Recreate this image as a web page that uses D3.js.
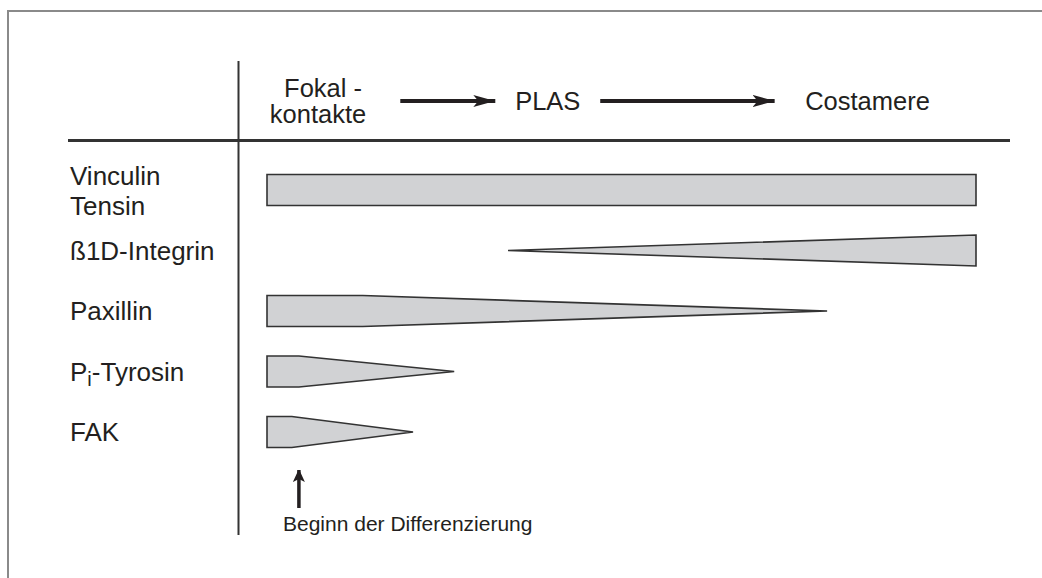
<!DOCTYPE html>
<html>
<head>
<meta charset="utf-8">
<script src="https://cdn.jsdelivr.net/npm/d3@7"></script>
<style>
  html, body { margin: 0; padding: 0; background: #fff; }
  svg { display: block; }
  text { font-family: "Liberation Sans", Arial, Helvetica, sans-serif; fill: #231f20; }
</style>
</head>
<body>
<svg id="chart" width="1042" height="578"></svg>
<script>
// ---- data ----
const rows        = ["Vinculin/Tensin", "ß1D-Integrin", "Paxillin", "Pi-Tyrosin", "FAK"];
// expression time course (0 = Beginn der Differenzierung ... 100 = Costamere)
const rowStart    = [0,   34,  0,    0,    0];
const rowPlateau  = [100, 34,  13.5, 4.5,  3.5];
const rowEnd      = [100, 100, 79,   26.4, 20.6];
const levelStart  = [1,   0,   1,    1,    1];
const levelEnd    = [1,   1,   0,    0,    0];
const stages      = ["Fokal -|kontakte", "PLAS", "Costamere"];
const stageTime   = [7.2, 39.6, 84.7];
const arrowFrom   = [18.8, 47];
const arrowTo     = [32.2, 71.6];
const startMark   = 4.5;
const startLabel  = "Beginn der Differenzierung";

// ---- layout ----
const svg = d3.select("#chart");
const x = d3.scaleLinear().domain([0, 100]).range([267, 976]);
const y = d3.scalePoint().domain(rows).range([190, 432]);
const h = d3.scaleLinear().domain([0, 1]).range([0, 15.5]);
const ink = "#231f20";

// frame
svg.append("path").attr("d", "M8,578V11H1042")
  .attr("fill", "none").attr("stroke", "#8a8a8a").attr("stroke-width", 2);

// axes lines
svg.append("line").attr("x1", 68).attr("x2", 1010).attr("y1", 140.5).attr("y2", 140.5)
  .attr("stroke", "#333").attr("stroke-width", 3);
svg.append("line").attr("x1", 238.5).attr("x2", 238.5).attr("y1", 61).attr("y2", 535)
  .attr("stroke", "#333").attr("stroke-width", 2);

// defs arrow markers
const defs = svg.append("defs");
defs.append("marker").attr("id", "ah").attr("viewBox", "0 0 22 12")
  .attr("refX", 22).attr("refY", 6).attr("markerWidth", 22).attr("markerHeight", 12)
  .attr("markerUnits", "userSpaceOnUse").attr("orient", "auto")
  .append("path").attr("d", "M0,0L22,6L0,12L5,6Z").attr("fill", ink);

// header stages
stages.forEach((s, i) => {
  const lines = s.split("|");
  const t = svg.append("text").attr("x", x(stageTime[i])).attr("text-anchor", "middle")
    .attr("font-size", 25.5);
  if (lines.length === 2) {
    t.append("tspan").attr("x", x(stageTime[i]) + 5).attr("y", 97).text(lines[0]);
    t.append("tspan").attr("x", x(stageTime[i])).attr("y", 123).text(lines[1]);
  } else {
    t.attr("y", 110).text(lines[0]);
  }
});
arrowFrom.forEach((a, i) => {
  svg.append("line").attr("x1", x(a)).attr("x2", x(arrowTo[i]))
    .attr("y1", 101).attr("y2", 101)
    .attr("stroke", ink).attr("stroke-width", 4).attr("marker-end", "url(#ah)");
});

// bands
const area = d3.area()
  .x(d => x(d.t))
  .y0(d => d.c + h(d.l))
  .y1(d => d.c - h(d.l));

rows.forEach((r, i) => {
  const c = y(r);
  const pts = [
    { t: rowStart[i], l: levelStart[i], c },
    { t: rowPlateau[i], l: levelStart[i], c },
    { t: rowEnd[i], l: levelEnd[i], c }
  ];
  svg.append("path").attr("d", area(pts) )
    .attr("fill", "#d1d2d4").attr("stroke", "#333").attr("stroke-width", 1.6)
    .attr("stroke-linejoin", "miter");
});

// row labels
rows.forEach((r, i) => {
  const c = y(r);
  const t = svg.append("text").attr("x", 70).attr("font-size", 26);
  if (r.includes("/")) {
    const [a, b] = r.split("/");
    t.append("tspan").attr("x", 70).attr("y", c - 5).text(a);
    t.append("tspan").attr("x", 70).attr("y", c + 25).text(b);
  } else if (r.startsWith("Pi-")) {
    t.attr("y", c + 9);
    t.append("tspan").text("P");
    t.append("tspan").attr("font-size", 20).attr("dy", 5).text("i");
    t.append("tspan").attr("dy", -5).text(r.slice(2));
  } else {
    t.attr("y", c + 9).text(r);
  }
});

// start marker
defs.append("marker").attr("id", "ah2").attr("viewBox", "0 0 12 14")
  .attr("refX", 12).attr("refY", 6).attr("markerWidth", 12).attr("markerHeight", 14)
  .attr("markerUnits", "userSpaceOnUse").attr("orient", "auto")
  .append("path").attr("d", "M0,0L13,6L0,12L3,6Z").attr("fill", ink);
svg.append("line").attr("x1", x(startMark)).attr("x2", x(startMark))
  .attr("y1", 508).attr("y2", 470)
  .attr("stroke", ink).attr("stroke-width", 3.5).attr("marker-end", "url(#ah2)");
svg.append("text").attr("x", 283).attr("y", 531).attr("font-size", 21).text(startLabel);
</script>
</body>
</html>
